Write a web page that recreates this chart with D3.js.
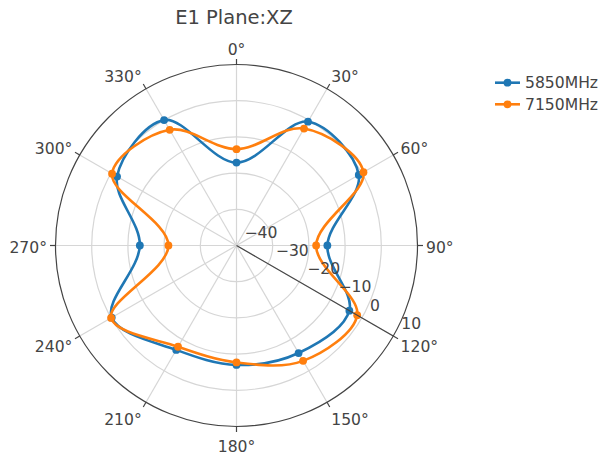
<!DOCTYPE html>
<html><head><meta charset="utf-8">
<script src="https://cdn.jsdelivr.net/npm/d3@7"></script>
<style>body{margin:0;background:#fff}svg{display:block;font-family:"DejaVu Sans",Verdana,sans-serif}</style>
</head><body><svg id="c" width="598" height="458"></svg>
<script>
const angles = [0, 30, 60, 90, 120, 150, 180, 210, 240, 270, 300, 330];
const angleLabels = ["0°","30°","60°","90°","120°","150°","180°","210°","240°","270°","300°","330°"];
const seriesNames = ["5850MHz", "7150MHz"];
const values5850 = [-17.1, -0.5, -1.0, -14.9, -4.0, -5.7, -7.0, -6.7, -0.2, -13.3, -1.9, 0.0];
const values7150 = [-13.4, -2.7, 0.5, -18.0, -1.5, -3.2, -7.7, -7.7, 0.0, -21.2, -0.3, -3.1];
const radialTicks = [-40, -30, -20, -10, 0, 10];
const colors = ["#1f77b4", "#ff7f0e"];

const svg = d3.select("#c");
const cx = 236.5, cy = 245.5, R = 181;
const rScale = d3.scaleLinear().domain([-40, 10]).range([0, R]);
const aScale = d3.scaleLinear().domain([0, 360]).range([0, 2 * Math.PI]);
const g = svg.append("g").attr("transform", `translate(${cx},${cy})`);
const pt = (deg, r) => [r * Math.sin(aScale(deg)), -r * Math.cos(aScale(deg))];

// title
svg.append("text").attr("x", 234).attr("y", 24).attr("text-anchor", "middle")
  .attr("font-size", 19.5).attr("fill", "#444").text("E1 Plane:XZ");

// grid circles
radialTicks.filter(t => t > -40 && t < 10).forEach(t => {
  g.append("circle").attr("r", rScale(t)).attr("fill", "none").attr("stroke", "#d6d6d6").attr("stroke-width", 1.2);
});
// angular grid lines
angles.forEach(a => {
  const p = pt(a, R);
  g.append("line").attr("x1", 0).attr("y1", 0).attr("x2", p[0]).attr("y2", p[1])
    .attr("stroke", "#d6d6d6").attr("stroke-width", 1.2);
});
// outer line
g.append("circle").attr("r", R).attr("fill", "none").attr("stroke", "#444").attr("stroke-width", 1.2);
// angular ticks and labels
angles.forEach((a, i) => {
  const p1 = pt(a, R), p2 = pt(a, R + 5.5);
  g.append("line").attr("x1", p1[0]).attr("y1", p1[1]).attr("x2", p2[0]).attr("y2", p2[1])
    .attr("stroke", "#444").attr("stroke-width", 1.2);
  const s = Math.sin(aScale(a)), c = Math.cos(aScale(a));
  const p = pt(a, R + 8.5);
  const anchor = s > 0.1 ? "start" : (s < -0.1 ? "end" : "middle");
  g.append("text").attr("x", p[0]).attr("y", p[1] + 2.25 - 8.75 * c)
    .attr("dy", "0.36em").attr("text-anchor", anchor)
    .attr("font-size", 15.6).attr("fill", "#444").text(angleLabels[i]);
});

// traces
const line = d3.lineRadial().angle(d => aScale(d[0])).radius(d => rScale(d[1]))
  .curve(d3.curveCatmullRomClosed.alpha(0.5));
[values5850, values7150].forEach((vals, k) => {
  const data = angles.map((a, i) => [a, vals[i]]);
  g.append("path").attr("d", line(data)).attr("fill", "none")
    .attr("stroke", colors[k]).attr("stroke-width", 2.6).attr("stroke-linejoin", "round");
  g.selectAll(null).data(data).enter().append("circle")
    .attr("cx", d => pt(d[0], rScale(d[1]))[0])
    .attr("cy", d => pt(d[0], rScale(d[1]))[1])
    .attr("r", 3.9).attr("fill", colors[k]);
});

// radial axis (above traces)
const radialAngle = 120;
const pe = pt(radialAngle, R);
g.append("line").attr("x1", 0).attr("y1", 0).attr("x2", pe[0]).attr("y2", pe[1])
  .attr("stroke", "#444").attr("stroke-width", 1.2);
radialTicks.forEach(t => {
  const p = pt(radialAngle, rScale(t));
  g.append("text").attr("x", p[0] + 8).attr("y", p[1] - 13).attr("dy", "0.36em")
    .attr("text-anchor", "start").attr("font-size", 15.6).attr("fill", "#444")
    .text(d3.format("")(t).replace("-", "\u2212"));
});

// legend
seriesNames.forEach((n, k) => {
  const y = 82.7 + k * 21.6;
  const lg = svg.append("g");
  lg.append("line").attr("x1", 495).attr("x2", 520).attr("y1", y).attr("y2", y)
    .attr("stroke", colors[k]).attr("stroke-width", 2.6);
  lg.append("circle").attr("cx", 507.5).attr("cy", y).attr("r", 3.9).attr("fill", colors[k]);
  lg.append("text").attr("x", 525).attr("y", y).attr("dy", "0.36em")
    .attr("font-size", 15.6).attr("fill", "#444").text(n);
});
</script></body></html>
